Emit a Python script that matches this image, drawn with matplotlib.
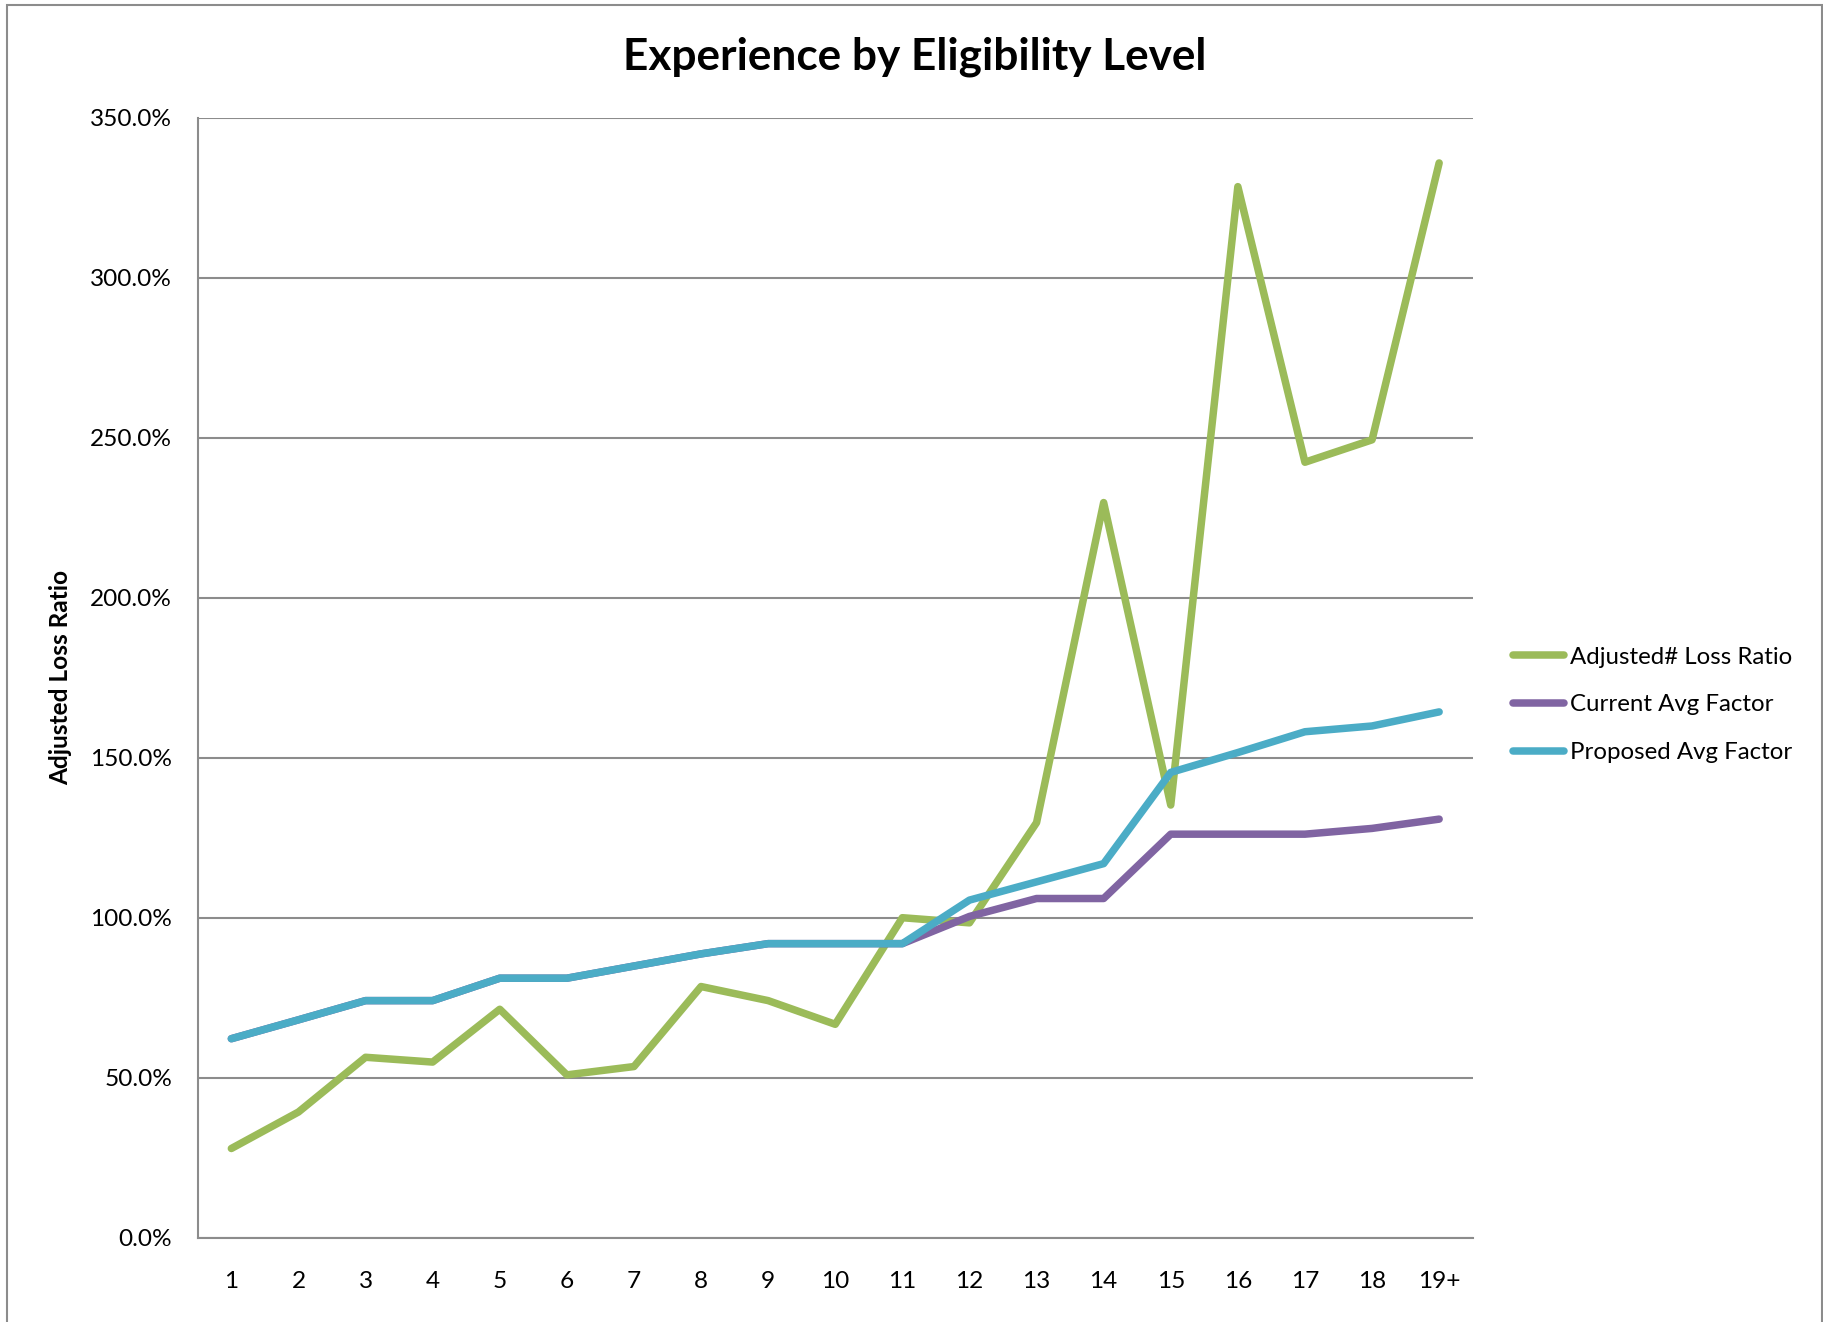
import matplotlib
matplotlib.use("Agg")
import matplotlib.pyplot as plt
from matplotlib.patches import Rectangle
from matplotlib.ticker import FuncFormatter, MultipleLocator

# Eligibility levels and the three series (ratios in percent)
levels = ["1", "2", "3", "4", "5", "6", "7", "8", "9", "10",
          "11", "12", "13", "14", "15", "16", "17", "18", "19+"]
adjusted_loss_ratio = [27.9, 39.3, 56.4, 54.9, 71.4, 50.9, 53.5, 78.5, 74.1, 66.7,
                       100.0, 98.4, 129.7, 229.7, 135.2, 328.4, 242.3, 249.3, 335.8]
current_avg_factor = [62.2, 68.1, 74.1, 74.1, 81.1, 81.1, 84.9, 88.7, 91.9, 91.9,
                      91.9, 100.4, 106.0, 106.0, 126.1, 126.1, 126.1, 127.9, 130.8]
proposed_avg_factor = [62.2, 68.1, 74.1, 74.1, 81.1, 81.1, 84.9, 88.7, 91.9, 91.9,
                       91.9, 105.5, 111.2, 116.9, 145.4, 151.6, 158.1, 159.9, 164.3]

series_names = ["Adjusted# Loss Ratio", "Current Avg Factor", "Proposed Avg Factor"]
series_colors = ["#9BBB59", "#8064A2", "#4BACC6"]

plt.rcParams["font.family"] = ["Lato", "DejaVu Sans"]

W, H, DPI = 1824, 1322, 100
fig = plt.figure(figsize=(W / DPI, H / DPI), dpi=DPI)
fig.patch.set_facecolor("white")

# chart-area border
fig.patches.append(Rectangle((7 / W, -0.05), (1822 - 7) / W, 1.05 - 5 / H,
                             transform=fig.transFigure, fill=False,
                             edgecolor="#8c8c8c", linewidth=1.5))

ax = fig.add_axes([197.8 / W, 1 - 1237.8 / H, (1472.7 - 197.8) / W, (1237.8 - 117.5) / H])

x = list(range(len(levels)))
for vals, name, col in zip([adjusted_loss_ratio, current_avg_factor, proposed_avg_factor],
                           series_names, series_colors):
    ax.plot(x, vals, color=col, linewidth=5.4, label=name,
            solid_capstyle="round", solid_joinstyle="round")

ax.set_xlim(-0.5, len(levels) - 0.5)
ax.set_ylim(0, 350)
ax.yaxis.set_major_locator(MultipleLocator(50))
ax.yaxis.set_major_formatter(FuncFormatter(lambda v, p: f"{v:.1f}%"))
ax.set_xticks(x)
ax.set_xticklabels(levels)

grid_col = "#8c8c8c"
ax.grid(axis="y", color=grid_col, linewidth=1.5)
ax.set_axisbelow(True)
for side in ["top", "right"]:
    ax.spines[side].set_visible(False)
ax.spines["left"].set_color(grid_col)
ax.spines["bottom"].set_color(grid_col)
ax.spines["left"].set_linewidth(1.5)
ax.spines["bottom"].set_linewidth(1.5)
ax.tick_params(axis="both", length=0, labelsize=17.6, colors="black")
ax.tick_params(axis="y", pad=18.5)
ax.tick_params(axis="x", pad=24)

ax.set_ylabel("Adjusted Loss Ratio", fontsize=17.6, fontweight="bold", labelpad=13)

fig.text(0.5012, 1 - 57 / H, "Experience by Eligibility Level", ha="center", va="center",
         fontsize=31.8, fontweight="bold")

leg = ax.legend(loc="center left", bbox_to_anchor=(1.032, 0.4756), frameon=False,
                fontsize=17.3, handlelength=2.1, handletextpad=0.25, labelspacing=1.12,
                borderaxespad=0, borderpad=0)

fig.savefig("out.png", dpi=DPI, facecolor="white")
